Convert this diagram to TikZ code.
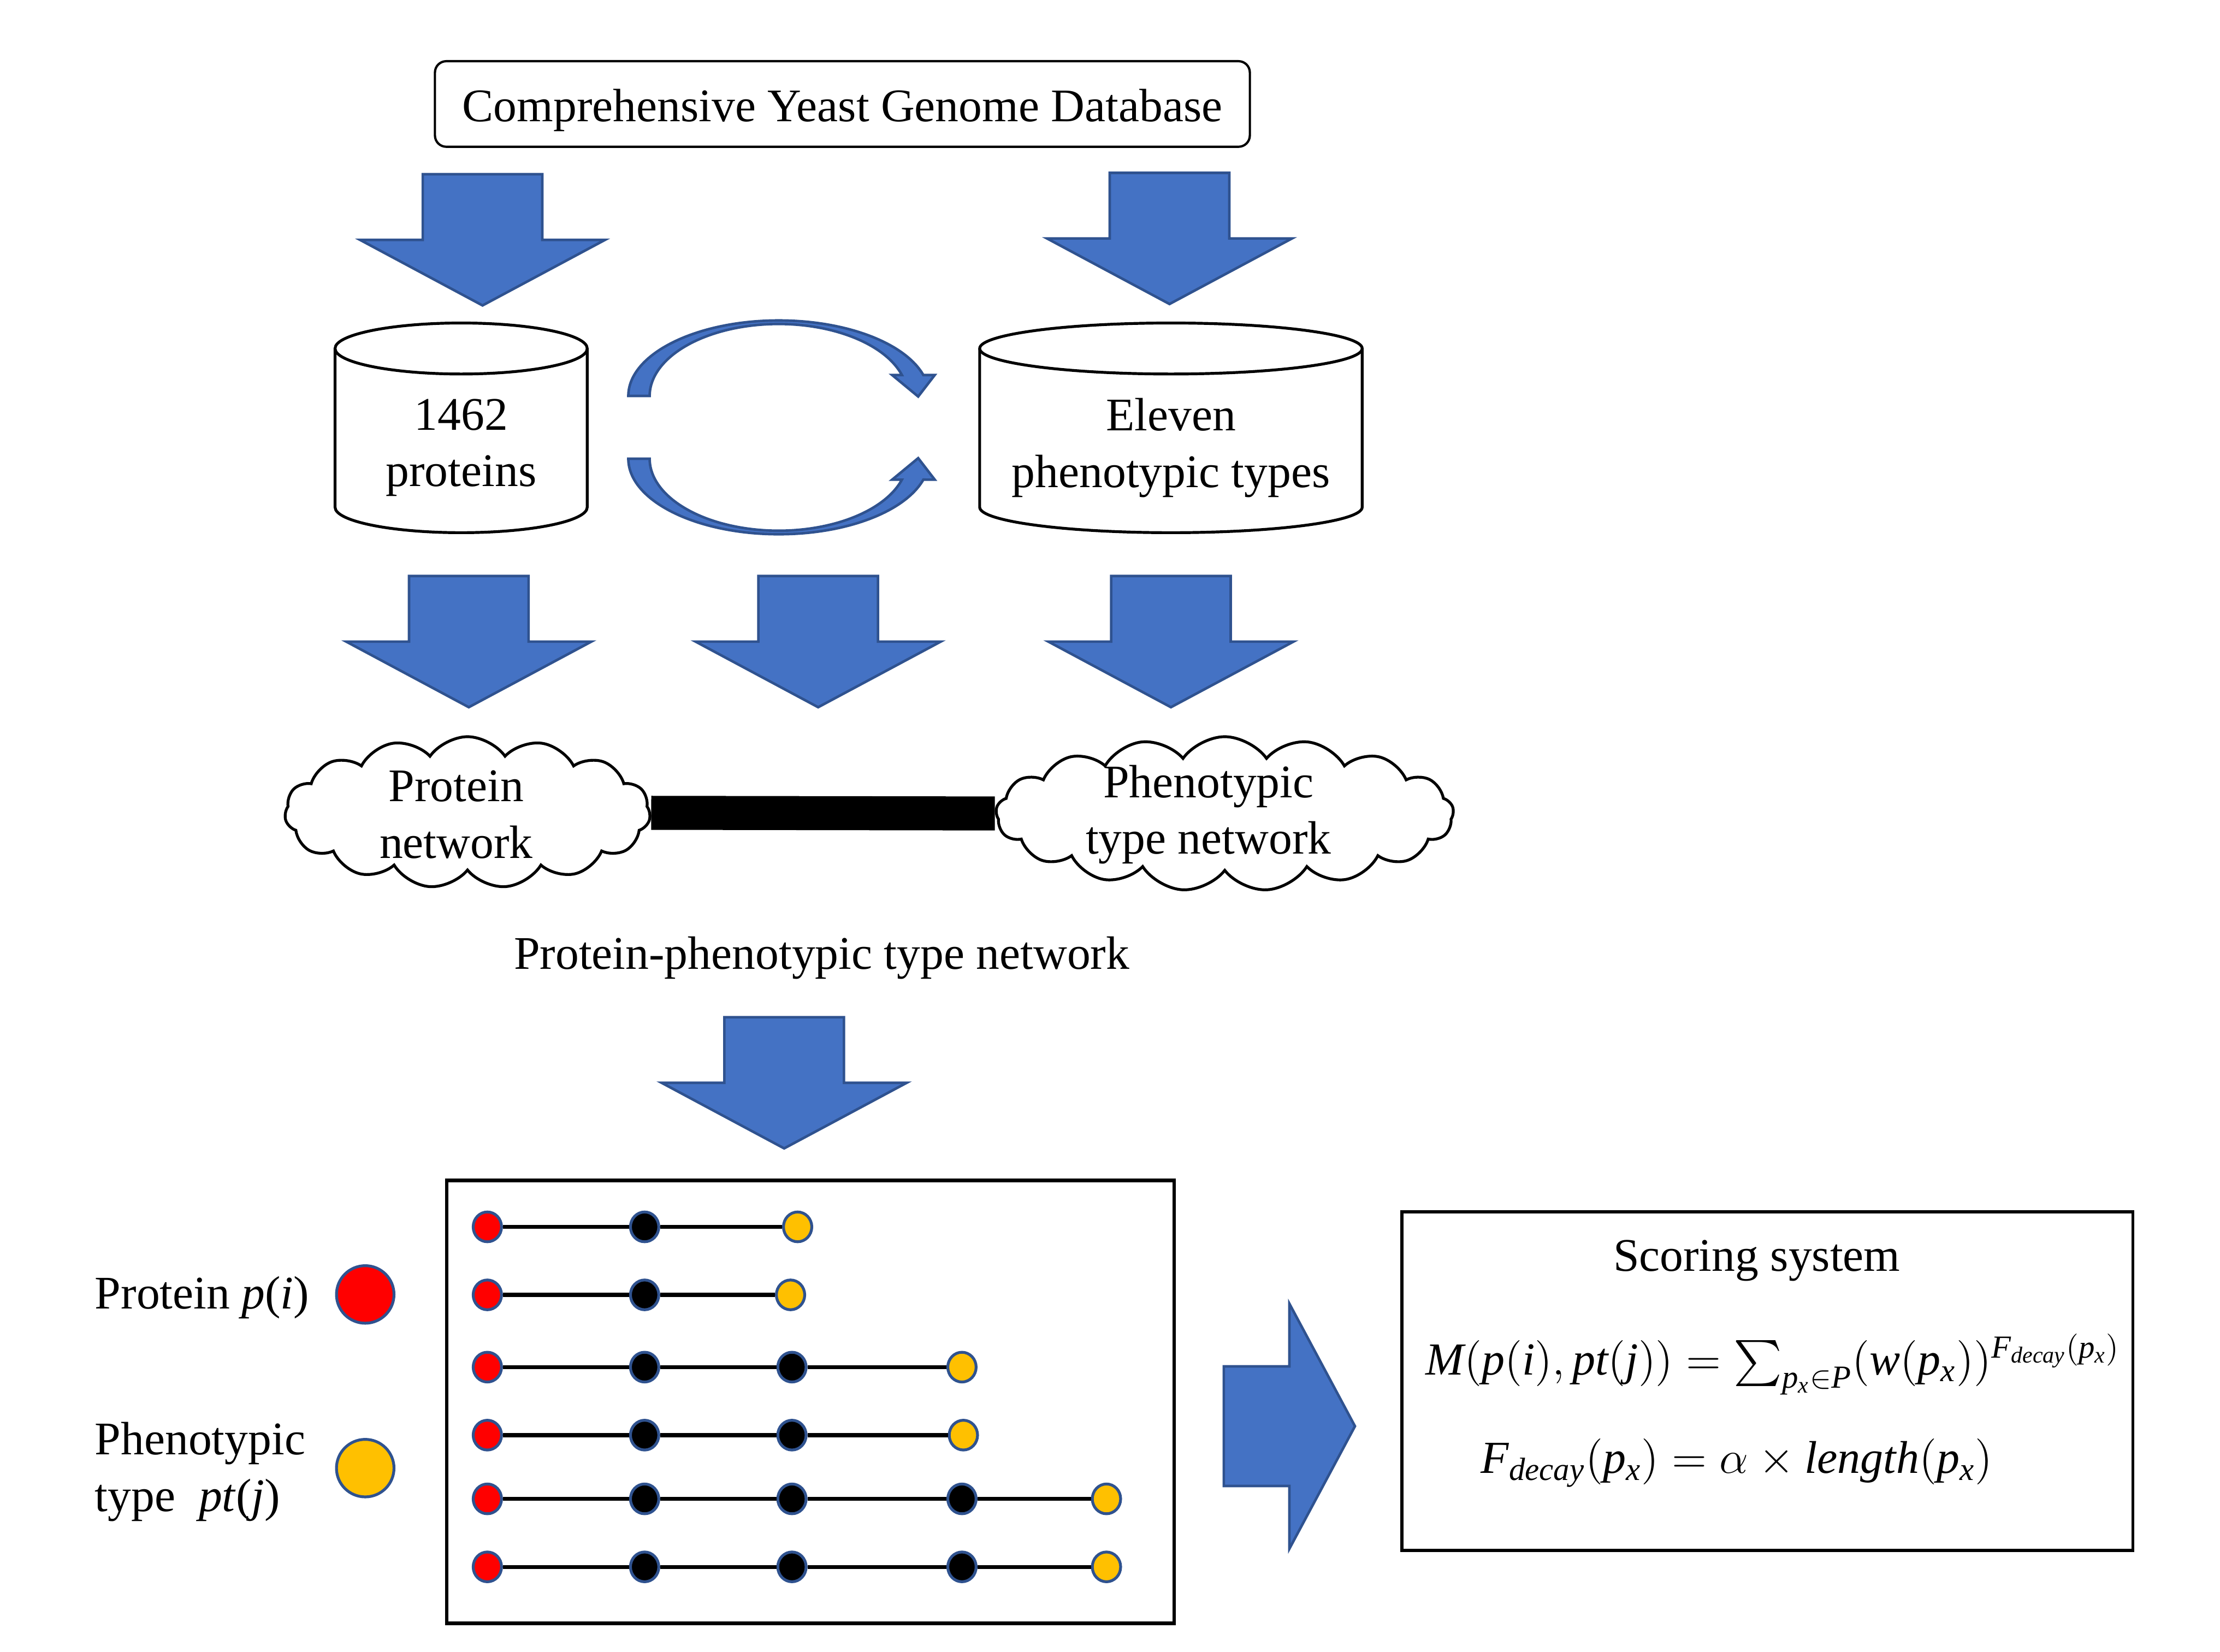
\RequirePackage{fix-cm}
\documentclass[tikz,border=0pt]{standalone}
\usepackage{amsmath}
\usepackage{amssymb}
\usepackage{fontspec}
\setmainfont{Liberation Serif}
\usepackage{tikz}
\usetikzlibrary{shapes.geometric}
\usetikzlibrary{shapes.symbols}
\usetikzlibrary{positioning}
\definecolor{arrowblue}{HTML}{4472C4}
\definecolor{edgeblue}{HTML}{2F528F}
\definecolor{phenoyellow}{HTML}{FFC000}

\begin{document}
\begin{tikzpicture}[x=0.5pt, y=-0.5pt,
        font=\fontsize{16.5pt}{20pt}\selectfont,
        blk/.style={fill=arrowblue, draw=edgeblue, line width=0.9pt},
        blkdown/.pic={\draw[blk] (-42.2,0) -- (42.2,0) -- (42.2,46.3) -- (86.5,46.3) -- (0,92.6) -- (-86.5,46.3) -- (-42.2,46.3) -- cycle;},
        dbline/.style={draw, line width=1pt},
        net/.style={cloud, cloud puff arc=110, cloud ignores aspect, draw, line width=1pt, fill=white, inner sep=0pt},
        framebox/.style={draw, line width=1.25pt, inner sep=0pt},
        pnode/.style={ellipse, draw=edgeblue, line width=1pt, minimum width=10pt, minimum height=10.5pt, inner sep=0pt},
        prot/.style={pnode, fill=red},
        hub/.style={pnode, fill=black},
        pheno/.style={pnode, fill=phenoyellow},
        key/.style={circle, draw=edgeblue, line width=1pt, minimum size=20.3pt, inner sep=0pt},
        link/.style={line width=1.4pt}]
        \useasboundingbox (0,0) rectangle (1567,1166);

        \node[framebox, rounded corners=4pt, line width=0.8pt, minimum width=287.6pt, minimum height=30.2pt, text height=12.4pt, text depth=0pt] (cygd) at (594.6,73.4) {Comprehensive Yeast Genome Database};

        % the two databases
        \node[align=center] (prot) at (325.5,316) {1462\\proteins};
        \draw[dbline] (325.5,246) ellipse [x radius=44.5pt, y radius=9pt];
        \draw[dbline] (236.5,246) -- (236.5,358) arc[start angle=180, end angle=360, x radius=44.5pt, y radius=9pt] -- (414.5,246);
        \node[align=center] (phtype) at (826.5,316) {Eleven\\phenotypic types};
        \draw[dbline] (826.5,246) ellipse [x radius=67.5pt, y radius=9pt];
        \draw[dbline] (691.5,246) -- (691.5,358) arc[start angle=180, end angle=360, x radius=67.5pt, y radius=9pt] -- (961.5,246);

        \path (340.6,123) pic {blkdown};
        \path (825.5,122) pic {blkdown};
        \path (330.9,406.6) pic {blkdown};
        \path (577.5,406.6) pic {blkdown};
        \path (826.5,406.6) pic {blkdown};
        \path (553.5,718) pic {blkdown};
        \path (863.8,1006.7) pic[rotate=90] {blkdown};

        % curved arrows between the databases
        \draw[blk] (443.5,279.5) arc[start angle=180, end angle=16.1, x radius=53.1pt, y radius=26.65pt] -- (659.8,264.7) -- (648.1,279.9) -- (629.7,264.7) -- (636.6,264.7) arc[start angle=16.94, end angle=180, x radius=45.5pt, y radius=25.4pt] -- cycle;
        \draw[blk] (443.5,323.8) arc[start angle=180, end angle=343.9, x radius=53.1pt, y radius=26.65pt] -- (659.8,338.6) -- (648.1,323.4) -- (629.7,338.6) -- (636.6,338.6) arc[start angle=343.06, end angle=180, x radius=45.5pt, y radius=25.4pt] -- cycle;

        \node[net, cloud puffs=15, minimum width=129pt, minimum height=53.5pt] (pnet) at (330,573.5) {};
        \node[net, cloud puffs=17, minimum width=161.5pt, minimum height=54.5pt] (ptnet) at (864.5,574.5) {};
        \draw[line width=12pt] (pnet) -- (ptnet);
        \node[align=center] (pnettext) at (322,575) {Protein\\network};
        \node[align=center] (ptnettext) at (853,575) {Phenotypic\\type network};
        \node (ppt) at (580,676) {Protein-phenotypic type network};

        % paths from proteins to phenotypic types
        \node[framebox, minimum width=256.75pt, minimum height=156.25pt] (paths) at (572,989.5) {};
        \node[prot] (a1) at (344,866) {};
        \node[hub] (b1) at (455,866) {};
        \node[pheno] (c1) at (563,866) {};
        \node[prot] (a2) at (344,914) {};
        \node[hub] (b2) at (455,914) {};
        \node[pheno] (c2) at (558,914) {};
        \node[prot] (a3) at (344,965) {};
        \node[hub] (b3) at (455,965) {};
        \node[hub] (c3) at (559,965) {};
        \node[pheno] (d3) at (679,965) {};
        \node[prot] (a4) at (344,1013) {};
        \node[hub] (b4) at (455,1013) {};
        \node[hub] (c4) at (559,1013) {};
        \node[pheno] (d4) at (680,1013) {};
        \node[prot] (a5) at (344,1058) {};
        \node[hub] (b5) at (455,1058) {};
        \node[hub] (c5) at (559,1058) {};
        \node[hub] (d5) at (679,1058) {};
        \node[pheno] (e5) at (781,1058) {};
        \node[prot] (a6) at (344,1106) {};
        \node[hub] (b6) at (455,1106) {};
        \node[hub] (c6) at (559,1106) {};
        \node[hub] (d6) at (679,1106) {};
        \node[pheno] (e6) at (781,1106) {};
        \draw[link] (a1) -- (b1) -- (c1);
        \draw[link] (a2) -- (b2) -- (c2);
        \draw[link] (a3) -- (b3) -- (c3) -- (d3);
        \draw[link] (a4) -- (b4) -- (c4) -- (d4);
        \draw[link] (a5) -- (b5) -- (c5) -- (d5) -- (e5);
        \draw[link] (a6) -- (b6) -- (c6) -- (d6) -- (e6);

        \node[anchor=west] (lprot) at (60,916) {Protein \textit{p}(\textit{i})};
        \node[key, fill=red] (lred) at (257.8,913.7) {};
        \node[anchor=west, align=left] (lpheno) at (60,1039) {Phenotypic\\type\ \ \textit{pt}(\textit{j})};
        \node[key, fill=phenoyellow] (lyellow) at (257.8,1036.3) {};

        \node[framebox, line width=1.1pt, minimum width=258pt, minimum height=119.5pt] (score) at (1247.5,974.8) {};
        \node (stitle) at (1240,890) {Scoring system};
        \node[anchor=base, font=\fontsize{16.2pt}{20pt}\selectfont] (meq) at (1251.5,970.4) {$\mathit{M(p(i),pt(j))=\sum_{p_x\in P}(w(p_x))^{F_{decay}(p_x)}}$};
        \node[anchor=base, font=\fontsize{16.2pt}{20pt}\selectfont] (feq) at (1226,1039.8) {$\mathit{F_{decay}(p_x)=\alpha\times length(p_x)}$};
\end{tikzpicture}
\end{document}
